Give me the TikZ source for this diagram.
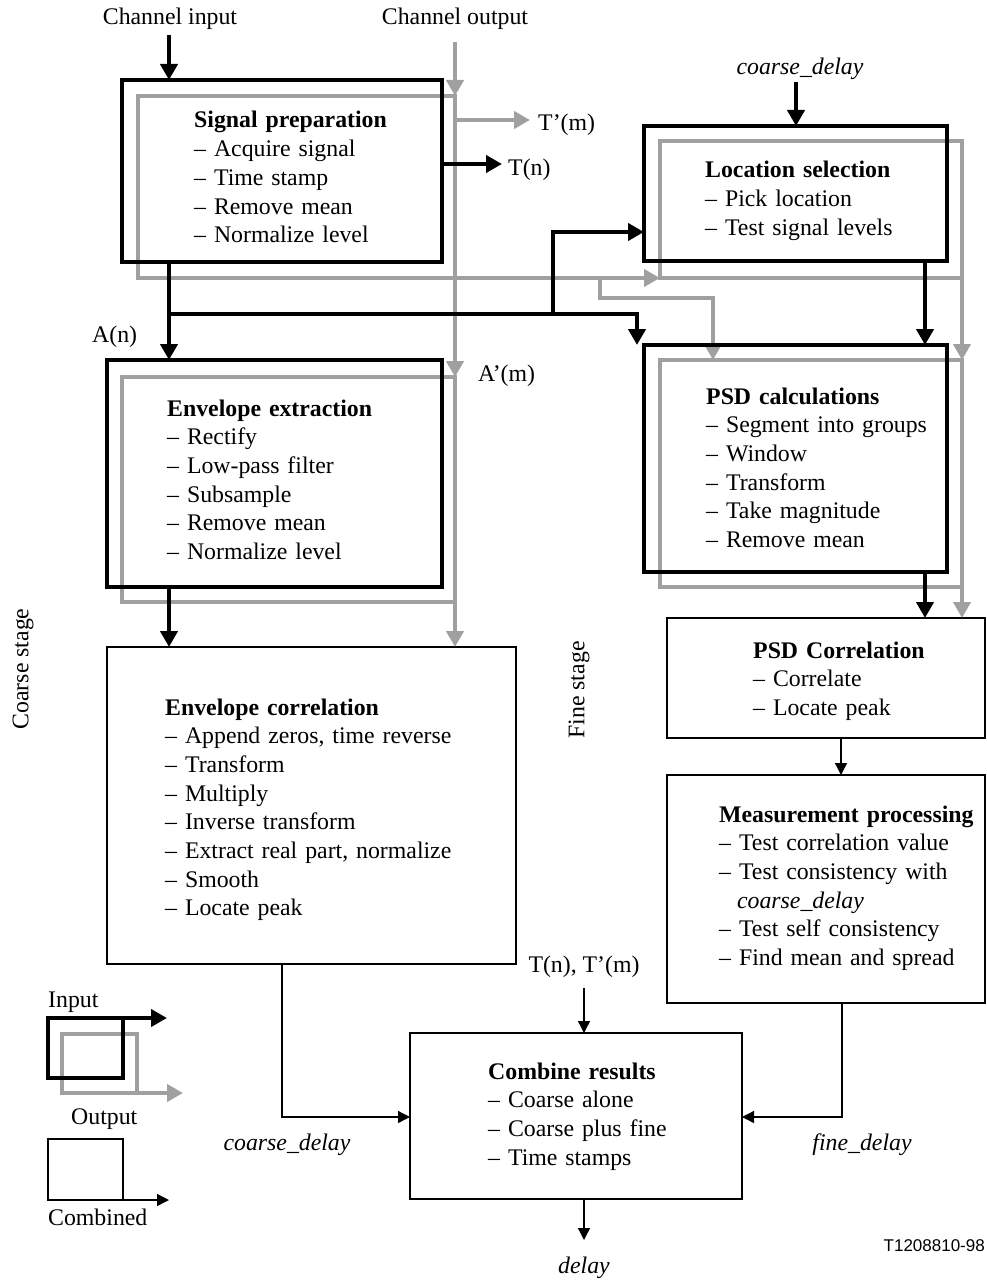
\documentclass[tikz,border=0pt]{standalone}
\usepackage{fontspec}
\setmainfont{Liberation Serif}
\newfontfamily\labsans{Liberation Sans}
\usetikzlibrary{arrows.meta}
\definecolor{gr}{HTML}{A0A0A0}
\begin{document}
\begin{tikzpicture}[x=1pt,y=-1pt,
  bx/.style={rectangle,inner sep=0pt,outer sep=0pt,anchor=north west},
  blkbox/.style={bx,draw=black,line width=4pt},
  grybox/.style={bx,draw=gr,line width=4pt},
  thnbox/.style={bx,draw=black,line width=1.3pt},
  blk/.style={draw=black,line width=4pt},
  gry/.style={draw=gr,line width=4pt},
  thn/.style={draw=black,line width=1.3pt},
  barrow/.style={-{Triangle[length=16pt,width=17pt]}},
  tarrow/.style={-{Triangle[length=12pt,width=12pt]}},
  txt/.style={anchor=base west,inner sep=0pt,align=left,text width=330pt,
    font=\fontsize{23.8}{28.7}\selectfont},
  lab/.style={inner sep=0pt,font=\fontsize{23.8}{28.7}\selectfont},
]
\useasboundingbox (0,0) rectangle (986,1281);

% ---------- boxes ----------
\node[grybox,minimum width=317pt,minimum height=182pt] (spG) at (138,96) {};
\node[grybox,minimum width=333pt,minimum height=225pt] (eeG) at (122,377) {};
\node[grybox,minimum width=302pt,minimum height=137pt] (lsG) at (660,141) {};
\node[grybox,minimum width=302pt,minimum height=227pt] (pcG) at (660,360) {};

% ---------- free coordinates ----------
\coordinate (ci) at (169,35);
\coordinate (co) at (455,42);
\coordinate (tm) at (530,120);
\coordinate (tn) at (502,164);
\coordinate (cdt) at (796,82);
\coordinate (j1) at (169,314);
\coordinate (j2) at (553,314);
\coordinate (j3) at (637,314);
\coordinate (j4) at (553,232);
\coordinate (g1) at (600,278);
\coordinate (g2) at (713,298);
\coordinate (x1) at (925,0);
\coordinate (x2) at (841,0);
\coordinate (x3) at (282,1117);
\coordinate (x4) at (842,1117);
\coordinate (tt) at (584,988);
\coordinate (dl) at (584,1240);

\node[thnbox,minimum width=409pt,minimum height=317pt] (ec) at (107,647) {};
\node[thnbox,minimum width=318pt,minimum height=120pt] (psdc) at (667,618) {};
\node[thnbox,minimum width=318pt,minimum height=228pt] (mp) at (667,775) {};
\node[thnbox,minimum width=332pt,minimum height=166pt] (cr) at (410,1033) {};

% ---------- gray connectors ----------
\draw[gry,barrow] (co) -- (co |- spG.north);
\draw[gry,barrow] (co |- tm) -- (tm);
\draw[gry,barrow] (spG.north east) -- (eeG.north east);
\draw[gry,barrow] (eeG.north east) -- (eeG.north east |- ec.north);
\draw[gry,barrow] (spG.south east) -- (lsG.south west);
\draw[gry,barrow] (lsG.south east) -- (pcG.north east);
\draw[gry,barrow] (pcG.north east) -- (pcG.north east |- psdc.north);
\draw[gry,barrow] (g1) -- (g1 |- g2) -- (g2) -- (g2 |- pcG.north);

% ---------- black boxes ----------
\node[blkbox,minimum width=320pt,minimum height=182pt] (spB) at (122,80) {};
\node[blkbox,minimum width=335pt,minimum height=227pt] (eeB) at (107,360) {};
\node[blkbox,minimum width=303pt,minimum height=135pt] (lsB) at (644,126) {};
\node[blkbox,minimum width=303pt,minimum height=227pt] (pcB) at (644,345) {};

% ---------- black connectors ----------
\draw[blk,barrow] (ci) -- (ci |- spB.north);
\draw[blk,barrow] (spB.east |- tn) -- (tn);
\draw[blk,barrow] (ci |- spB.south) -- (ci |- eeB.north);
\draw[blk,barrow] (j1) -- (j3) -- (j3 |- pcB.north);
\draw[blk,barrow] (j2) -- (j4) -- (j4 -| lsB.west);
\draw[blk,barrow] (cdt) -- (cdt |- lsB.north);
\draw[blk,barrow] (x1 |- lsB.south) -- (x1 |- pcB.north);
\draw[blk,barrow] (x1 |- pcB.south) -- (x1 |- psdc.north);
\draw[blk,barrow] (ci |- eeB.south) -- (ci |- ec.north);

% ---------- thin connectors ----------
\draw[thn,tarrow] (x2 |- psdc.south) -- (x2 |- mp.north);
\draw[thn,tarrow] (x3 |- ec.south) -- (x3) -- (x3 -| cr.west);
\draw[thn,tarrow] (x4 |- mp.south) -- (x4) -- (x4 -| cr.east);
\draw[thn,tarrow] (tt) -- (tt |- cr.north);
\draw[thn,tarrow] (dl |- cr.south) -- (dl);

% ---------- legend ----------
\node[grybox,minimum width=75pt,minimum height=59pt] (lgG) at (62,1034) {};
\node[blkbox,minimum width=75pt,minimum height=60pt] (lgB) at (48,1018) {};
\node[thnbox,minimum width=75pt,minimum height=61pt] (lgC) at (48,1139) {};
\coordinate (lgBa) at (167,1018);
\coordinate (lgGa) at (183,1093);
\coordinate (lgCa) at (169,1200);
\draw[blk,barrow] (lgB.north east) -- (lgBa);
\draw[gry,barrow] (lgG.south east) -- (lgGa);
\draw[thn,tarrow] (lgC.south east) -- (lgCa);

% ---------- box texts ----------
\node[txt] (tsp) at (194,128) {\textbf{Signal preparation}\\\textendash{} Acquire signal\\\textendash{} Time stamp\\\textendash{} Remove mean\\\textendash{} Normalize level};
\node[txt] (tee) at (167,416) {\textbf{Envelope extraction}\\\textendash{} Rectify\\\textendash{} Low-pass filter\\\textendash{} Subsample\\\textendash{} Remove mean\\\textendash{} Normalize level};
\node[txt] (tls) at (705,178) {\textbf{Location selection}\\\textendash{} Pick location\\\textendash{} Test signal levels};
\node[txt] (tpc) at (706,404) {\textbf{PSD calculations}\\\textendash{} Segment into groups\\\textendash{} Window\\\textendash{} Transform\\\textendash{} Take magnitude\\\textendash{} Remove mean};
\node[txt] (tec) at (165,715) {\textbf{Envelope correlation}\\\textendash{} Append zeros, time reverse\\\textendash{} Transform\\\textendash{} Multiply\\\textendash{} Inverse transform\\\textendash{} Extract real part, normalize\\\textendash{} Smooth\\\textendash{} Locate peak};
\node[txt] (tpsdc) at (753,658) {\textbf{PSD Correlation}\\\textendash{} Correlate\\\textendash{} Locate peak};
\node[txt] (tmp) at (719,822) {\textbf{Measurement processing}\\\textendash{} Test correlation value\\\textendash{} Test consistency with\\\hspace*{0.75em}\textit{coarse\_delay}\\\textendash{} Test self consistency\\\textendash{} Find mean and spread};
\node[txt] (tcr) at (488,1079) {\textbf{Combine results}\\\textendash{} Coarse alone\\\textendash{} Coarse plus fine\\\textendash{} Time stamps};

% ---------- labels ----------
\node[lab,anchor=base] (lci) at (170,25) {Channel input};
\node[lab,anchor=base] (lco) at (455,25) {Channel output};
\node[lab,anchor=base west] (ltm) at (538,131) {T’(m)};
\node[lab,anchor=base west] (ltn) at (508,176) {T(n)};
\node[lab,anchor=base] (lcdt) at (800,75) {\textit{coarse\_delay}};
\node[lab,anchor=base west] (lan) at (92,342) {A(n)};
\node[lab,anchor=base west] (lam) at (478,381) {A’(m)};
\node[lab,rotate=90] (lcs) at (23,669) {Coarse stage};
\node[lab,rotate=90] (lfs) at (579,690) {Fine stage};
\node[lab,anchor=base] (ltt) at (584,972) {T(n), T’(m)};
\node[lab,anchor=base] (lcdb) at (287,1150) {\textit{coarse\_delay}};
\node[lab,anchor=base] (lfd) at (862,1150) {\textit{fine\_delay}};
\node[lab,anchor=base] (ldl) at (584,1273) {\textit{delay}};
\node[lab,anchor=base west] (lin) at (48,1007) {Input};
\node[lab,anchor=base west] (lout) at (71,1124) {Output};
\node[lab,anchor=base west] (lcomb) at (48,1225) {Combined};
\node[inner sep=0pt,anchor=base east,font=\labsans\fontsize{17}{20}\selectfont] (lid) at (985,1251) {T1208810-98};
\end{tikzpicture}
\end{document}
